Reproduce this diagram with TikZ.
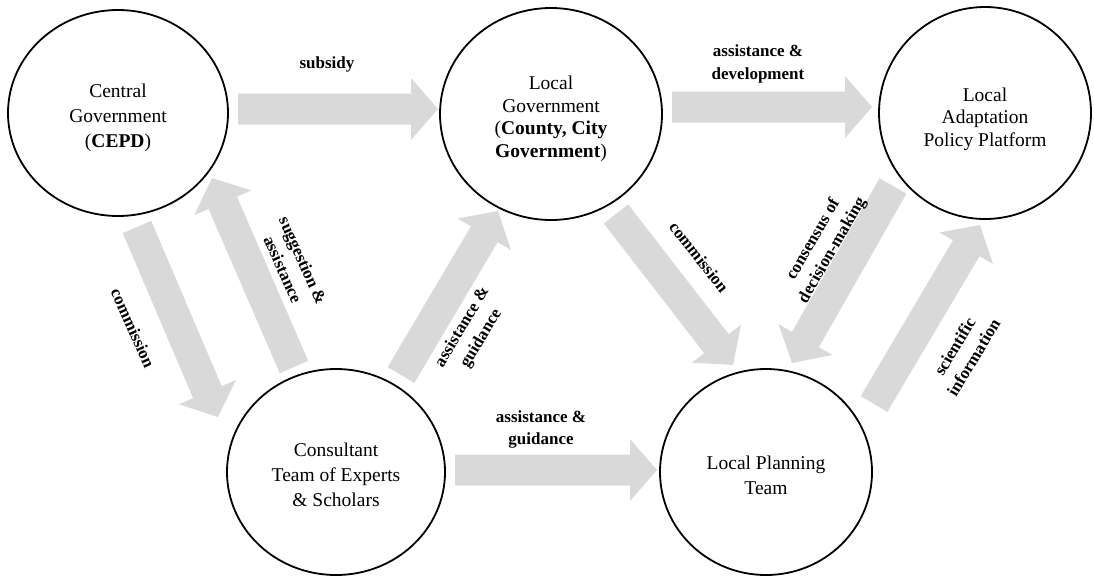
\documentclass[tikz,border=0pt]{standalone}
\usepackage{fontspec}
\setmainfont{Liberation Serif}
\usetikzlibrary{calc,shapes.geometric}

\definecolor{flowgray}{HTML}{D9D9D9}

\tikzset{
  actor/.style={draw=black, line width=1.8pt, ellipse, inner sep=0pt},
  actortext/.style={align=center, inner sep=0pt,
    font=\fontsize{19.5}{25}\selectfont},
  flowlabel/.style={align=center, inner sep=0pt,
    font=\fontsize{17}{22}\selectfont\bfseries},
  flowfill/.style={fill=flowgray}
}

% Broad block arrow from #1 to #2 (shaft 31, head 62 wide, 27 long)
\newcommand\flowarrow[2]{%
  \coordinate (hb) at ($(#2)!27pt!(#1)$);
  \fill[flowfill]
    ($(#1)!15.5pt!90:(#2)$) -- ($(hb)!15.5pt!90:(#2)$) --
    ($(hb)!31pt!90:(#2)$) -- (#2) -- ($(hb)!31pt!-90:(#2)$) --
    ($(hb)!15.5pt!-90:(#2)$) -- ($(#1)!15.5pt!-90:(#2)$) -- cycle;
}

\begin{document}
\begin{tikzpicture}[x=1pt, y=-1pt]
\useasboundingbox (0,0) rectangle (1094,576);

% actors
\node[actor, minimum width=220pt, minimum height=206pt] (cg) at (118,113) {};
\node[actor, minimum width=222pt, minimum height=212pt] (lg) at (551,114) {};
\node[actor, minimum width=212pt, minimum height=212pt] (lapp) at (985,113) {};
\node[actor, minimum width=218pt, minimum height=206pt] (ct) at (336,472) {};
\node[actor, minimum width=212pt, minimum height=206pt] (lpt) at (766,472) {};

\node[actortext] (cg-t) at ([yshift=-5pt]cg.center)
  {Central\\Government\\(\textbf{CEPD})};
\node[actortext, font=\fontsize{19.5}{22.5}\selectfont] (lg-t)
  at ([yshift=-5pt]lg.center)
  {Local\\Government\\(\textbf{County, City}\\\textbf{Government})};
\node[actortext, font=\fontsize{19.5}{22.5}\selectfont] (lapp-t)
  at ([yshift=-6pt]lapp.center)
  {Local\\Adaptation\\Policy Platform};
\node[actortext] (ct-t) at ([yshift=-3pt]ct.center)
  {Consultant\\Team of Experts\\\& Scholars};
\node[actortext] (lpt-t) at ([yshift=-3pt]lpt.center)
  {Local Planning\\Team};

% arrow end points
\coordinate (sub-s) at (238,109);  \coordinate (sub-e) at (438,109);
\coordinate (dev-s) at (672,107);  \coordinate (dev-e) at (872,107);
\coordinate (gui-s) at (455,470);  \coordinate (gui-e) at (657,470);
\coordinate (com1-s) at (137,227); \coordinate (com1-e) at (218,417);
\coordinate (sug-s) at (294,367);  \coordinate (sug-e) at (212,178);
\coordinate (gui2-s) at (401,375); \coordinate (gui2-e) at (498,211);
\coordinate (com2-s) at (616,214); \coordinate (com2-e) at (733,365);
\coordinate (con-s) at (893,186);  \coordinate (con-e) at (792,363);
\coordinate (sci-s) at (874,404);  \coordinate (sci-e) at (980,225);

\flowarrow{sub-s}{sub-e}
\flowarrow{dev-s}{dev-e}
\flowarrow{gui-s}{gui-e}
\flowarrow{com1-s}{com1-e}
\flowarrow{sug-s}{sug-e}
\flowarrow{gui2-s}{gui2-e}
\flowarrow{com2-s}{com2-e}
\flowarrow{con-s}{con-e}
\flowarrow{sci-s}{sci-e}

% labels
\node[flowlabel] (l-sub) at (327,64) {subsidy};
\node[flowlabel, font=\fontsize{17}{23}\selectfont\bfseries] (l-dev)
  at (758,64) {assistance \&\\development};
\node[flowlabel] (l-gui) at (541,429) {assistance \&\\guidance};
\node[flowlabel, rotate=-66] (l-com1) at (133,328) {commission};
\node[flowlabel, rotate=-66] (l-sug) at (293,265) {suggestion \&\\assistance};
\node[flowlabel, rotate=59] (l-gui2) at (472,333) {assistance \&\\guidance};
\node[flowlabel, rotate=-52] (l-com2) at (699,257) {commission};
\node[flowlabel, rotate=60] (l-con) at (823,245) {consensus of\\decision-making};
\node[flowlabel, rotate=59] (l-sci) at (964,352) {scientific\\information};
\end{tikzpicture}
\end{document}
